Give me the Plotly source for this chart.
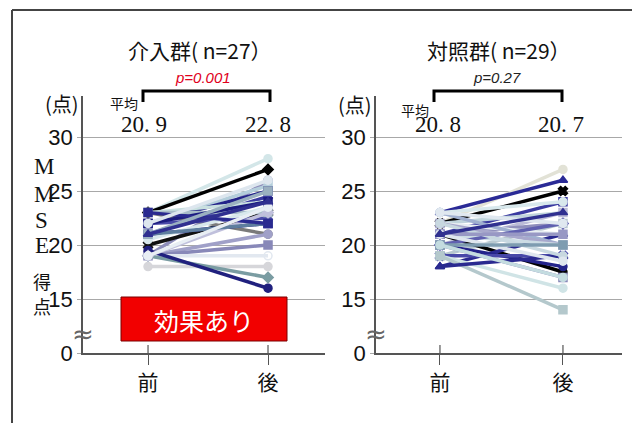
import plotly.graph_objects as go

W, H = 632, 423          # reference picture size (positions below are measured in it)
FIG_H = 436              # rendered height (the photographed viewport is slightly taller)

# ---------------- data ----------------
timepoints = ["前", "後"]

int_pre = [23, 23, 19, 22, 22, 21, 23, 20, 23, 21, 22, 19, 19, 19, 18, 19, 19.5, 23, 20.5, 22, 19, 21, 23, 22, 19, 21, 21]
int_post = [28, 27, 26, 25.5, 25, 24.5, 24, 23, 21, 22, 22.5, 21, 20, 19, 18, 17, 16, 23, 23.5, 24, 23, 22, 22, 26, 23.5, 25, 24]
int_colors = ["#d3e6e8", "#000000", "#8e8eba", "#b4cedb", "#23238a", "#3a3aa0", "#c9e0e0", "#111111", "#7a7a7a",
              "#25258c", "#4a4aa8", "#a0a0c8", "#8888b8", "#e2e8f0", "#d6d6da", "#7a9ca2", "#20207e", "#a8bcc8",
              "#d8e8ec", "#1c1c80", "#c0c0dc", "#5e7e9e", "#2a2a90", "#dde6ee", "#e8eef4", "#9ab0c0", "#303090"]
int_symbols = ["circle", "diamond", "circle", "square", "square", "triangle-up", "circle", "x", "circle",
               "square", "triangle-up", "circle", "square", "circle-open", "circle", "diamond", "circle", "square",
               "circle", "square", "diamond", "circle", "square", "circle", "circle", "square", "triangle-up"]

ctl_pre = [22, 23, 22, 21, 23, 22, 20, 21, 19, 22, 21, 18, 20, 19, 20, 19, 19, 18, 23, 22, 21, 20, 22, 21, 21, 23, 20, 21, 20]
ctl_post = [27, 26, 25, 24, 24, 23, 23, 22, 22, 21, 17.5, 21, 18, 19, 17, 16, 14, 19, 20, 20, 20, 22, 19, 21, 18.5, 22, 20, 23, 17]
ctl_colors = ["#e2e2d6", "#2a2a96", "#000000", "#3a3aa0", "#d8e8ec", "#c0d4dc", "#bcbcd8", "#9090bc", "#b8c8d0",
              "#e8eef2", "#000000", "#2a2a90", "#23238a", "#4848a8", "#8888b8", "#d0e4e6", "#b4c8cc", "#2a2a90",
              "#a0b0d0", "#a8a8cc", "#ccdce4", "#6060b0", "#c8d8e0", "#9898c4", "#dfe6ee", "#e0e8f0", "#7e9cb0",
              "#303090", "#c4dce0"]
ctl_symbols = ["circle", "triangle-up", "x", "square", "circle", "circle", "square", "circle", "square",
               "circle-open", "circle", "triangle-up", "circle", "x", "square", "circle", "square", "triangle-up",
               "circle", "square", "circle", "diamond", "circle", "square", "circle", "circle", "square",
               "triangle-up", "circle"]

int_title = "介入群( n=27）"
ctl_title = "対照群( n=29）"
int_means = ["20. 9", "22. 8"]
ctl_means = ["20. 8", "20. 7"]
int_p = "p=0.001"
ctl_p = "p=0.27"
effect_label = "効果あり"
y_tickvals = [10, 15, 20, 25, 30]
y_ticktext = ["0", "15", "20", "25", "30"]
y_label_chars = ["M", "M", "S", "E", "得", "点"]

# ---------------- helpers ----------------
def fx(px):
    return px / W

def fy(py):
    return 1 - py / H

JP = "Noto Sans CJK JP"
SANS = "Liberation Sans"
SERIF = "Liberation Serif"

fig = go.Figure()

for pre, post, c, s in zip(int_pre, int_post, int_colors, int_symbols):
    fig.add_trace(go.Scatter(x=timepoints, y=[pre, post], mode="lines+markers", xaxis="x", yaxis="y",
                             line=dict(color=c, width=3.5),
                             marker=dict(symbol=s, size=8, color=c, line=dict(color=c, width=1.5)),
                             showlegend=False, hoverinfo="skip"))
for pre, post, c, s in zip(ctl_pre, ctl_post, ctl_colors, ctl_symbols):
    fig.add_trace(go.Scatter(x=timepoints, y=[pre, post], mode="lines+markers", xaxis="x2", yaxis="y2",
                             line=dict(color=c, width=3.5),
                             marker=dict(symbol=s, size=8, color=c, line=dict(color=c, width=1.5)),
                             showlegend=False, hoverinfo="skip"))

axis_line = "#555555"
grid_c = "#a8a8a8"

def xax(domain, rng, anchor):
    return dict(domain=domain, range=rng, type="category", anchor=anchor,
                showline=True, linecolor=axis_line, linewidth=1.5,
                ticks="outside", ticklen=10, tickcolor=axis_line, tickwidth=1.2,
                tickfont=dict(family=JP, size=21, color="#111111"),
                showgrid=False, zeroline=False, fixedrange=True)

def yax(anchor):
    return dict(domain=[fy(353), fy(96)], range=[10, 33.8], anchor=anchor,
                tickvals=y_tickvals, ticktext=y_ticktext,
                showgrid=True, gridcolor=grid_c, gridwidth=1,
                showline=True, linecolor=axis_line, linewidth=1.5,
                ticks="outside", ticklen=4, tickcolor=grid_c,
                tickfont=dict(family=SANS, size=22, color="#111111"),
                zeroline=False, fixedrange=True)

fig.update_layout(
    width=W, height=FIG_H, autosize=False, margin=dict(l=0, r=0, t=0, b=0, pad=0),
    paper_bgcolor="white", plot_bgcolor="white",
    xaxis=xax([fx(83), fx(325)], [-0.542, 1.475], "y"),
    yaxis=yax("x"),
    xaxis2=xax([fx(376), fx(622)], [-0.52, 1.48], "y2"),
    yaxis2=yax("x2"),
)

ann = []
def text(px, py, t, size, family=JP, color="#111111", italic=False, xanchor="center"):
    ann.append(dict(x=fx(px), y=fy(py), xref="paper", yref="paper", text=(f"<i>{t}</i>" if italic else t),
                    showarrow=False, xanchor=xanchor, yanchor="middle",
                    font=dict(family=family, size=size, color=color)))

# titles
text(200, 50, int_title, 21)
text(499, 50, ctl_title, 21)
# p values
text(203, 77, int_p, 15, family=SANS, color="#e0001b", italic=True)
text(497, 77, ctl_p, 15, family=SANS, color="#222222", italic=True)
# units
text(62, 103, "(点)", 20)
text(355, 104, "(点)", 20)
# 平均
text(124, 103, "平均", 14)
text(415, 110, "平均", 14)
# means
text(144, 125, int_means[0], 23, family=SERIF)
text(268, 125, int_means[1], 23, family=SERIF)
text(438, 125, ctl_means[0], 23, family=SERIF)
text(561, 125, ctl_means[1], 23, family=SERIF)
# y label
label_pos = [(44, 166), (44, 194), (42, 220), (42, 246), (42, 281), (42, 306)]
for ch, (px, py) in zip(y_label_chars, label_pos):
    if ch in "MSE":
        text(px, py, ch, 23, family=SERIF)
    else:
        text(px, py, ch, 18)
# axis break marks
text(83, 334, "≈", 26, family="DejaVu Sans", color="#666666")
text(376, 334, "≈", 26, family="DejaVu Sans", color="#666666")
# effect label
text(204, 320, effect_label, 25, color="white")

fig.update_layout(annotations=ann)

shapes = []
# frame
shapes.append(dict(type="line", xref="paper", yref="paper", x0=fx(12), x1=fx(12), y0=fy(10), y1=0,
                   line=dict(color="#444444", width=2)))
shapes.append(dict(type="line", xref="paper", yref="paper", x0=fx(12), x1=1, y0=fy(10), y1=fy(10),
                   line=dict(color="#444444", width=2)))
# brackets
for x0, x1 in [(143, 270), (434, 562)]:
    shapes.append(dict(type="path", xref="paper", yref="paper",
                       path=f"M {fx(x0)} {fy(102)} L {fx(x0)} {fy(91)} L {fx(x1)} {fy(91)} L {fx(x1)} {fy(102)}",
                       line=dict(color="#000000", width=3)))
# red box
shapes.append(dict(type="rect", xref="paper", yref="paper", x0=fx(121), x1=fx(287), y0=fy(341), y1=fy(297),
                   fillcolor="#f20000", line=dict(color="#7a0000", width=1), layer="above"))
# inner part of crossing x ticks
for xr, yr in [("x", "y"), ("x2", "y2")]:
    for t in timepoints:
        shapes.append(dict(type="line", xref=xr, yref=yr, x0=t, x1=t, y0=10, y1=10.75,
                           line=dict(color=axis_line, width=1.2)))
fig.update_layout(shapes=shapes)

post = (
    "var de=document.documentElement, b=document.body;"
    "de.style.margin='0';de.style.padding='0';de.style.overflow='hidden';"
    "b.style.margin='0';b.style.padding='0';b.style.overflow='hidden';"
)
fig.write_html("out.html", config={"displayModeBar": False, "responsive": False}, post_script=post)
